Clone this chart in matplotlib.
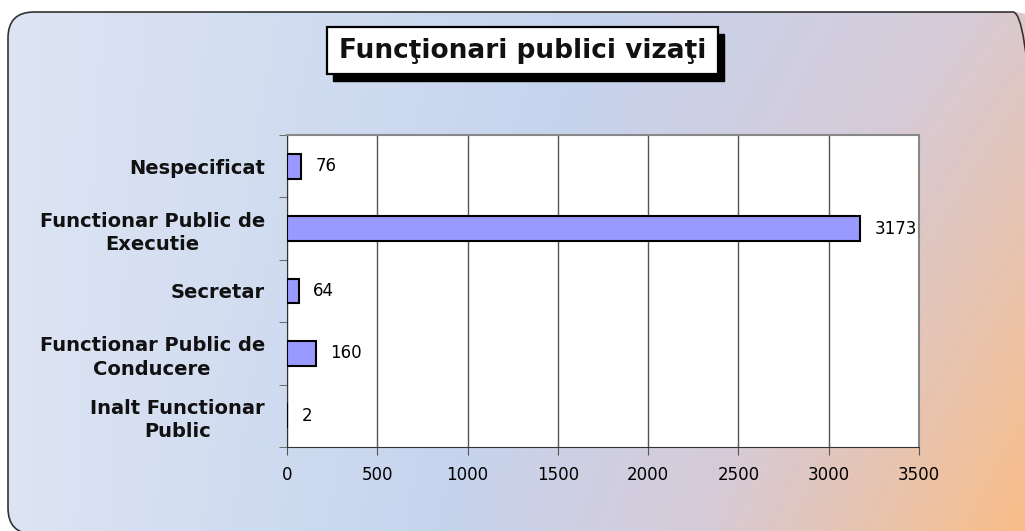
import numpy as np
import matplotlib
matplotlib.use("Agg")
import matplotlib.pyplot as plt
from matplotlib.patches import FancyBboxPatch, Rectangle
from matplotlib.colors import LinearSegmentedColormap

categories = ["Inalt Functionar\nPublic", "Functionar Public de\nConducere", "Secretar",
              "Functionar Public de\nExecutie", "Nespecificat"]
values = [2, 160, 64, 3173, 76]
xticks = [0, 500, 1000, 1500, 2000, 2500, 3000, 3500]
title = "Funcţionari publici vizaţi"

W, H = 1025, 531
fig = plt.figure(figsize=(W / 100, H / 100), dpi=100)
fig.patch.set_facecolor("white")

# background gradient panel (pixel coords, y measured upward)
bg = fig.add_axes([0, 0, 1, 1])
bg.set_xlim(0, W)
bg.set_ylim(0, H)
bg.axis("off")
yy, xx = np.mgrid[0:H, 0:W]  # yy = 0 at top row
t = (xx / W) * (0.72 + 0.28 * yy / H)
cmap = LinearSegmentedColormap.from_list(
    "g", [(0, "#dde5f3"), (0.42, "#c6d4ee"), (0.68, "#d6cbd8"), (1.0, "#f9bd88")])
im = bg.imshow(t, cmap=cmap, extent=(0, W, 0, H), origin="upper", aspect="auto",
               vmin=0, vmax=1)


def fy(y):
    return H - y


panel = FancyBboxPatch((8, fy(534)), W + 14 - 8, 534 - 12,
                       boxstyle="round,pad=0,rounding_size=26",
                       facecolor="none", edgecolor="#333333", linewidth=1.2)
bg.add_patch(panel)
im.set_clip_path(panel)

# title box with shadow
bg.add_patch(Rectangle((333, fy(81)), 391, 47, facecolor="black", edgecolor="black"))
bg.add_patch(Rectangle((327, fy(74)), 391, 47, facecolor="white", edgecolor="black",
                       linewidth=1.6))
bg.text(523, fy(51), title, ha="center", va="center", fontsize=19, fontweight="bold",
        color="#111111")

# chart axes
x0, x1 = 287, 919
y0, y1 = 135, 447
ax = fig.add_axes([x0 / W, 1 - y1 / H, (x1 - x0) / W, (y1 - y0) / H])
ax.set_facecolor("white")
pos = np.arange(len(categories))
ax.barh(pos, values, height=0.4, color="#9999ff", edgecolor="black", linewidth=1.5, zorder=3)
ax.set_xlim(0, 3500)
ax.set_ylim(-0.5, len(categories) - 0.5)
ax.set_xticks(xticks)
ax.set_xticklabels([str(v) for v in xticks], fontsize=12)
ax.set_yticks(pos)
ax.set_yticklabels(categories, fontsize=14, fontweight="bold", ha="right",
                   multialignment="center", color="#111111", linespacing=1.3)
ax.tick_params(axis="y", length=0, pad=16)
ax.set_yticks(np.arange(-0.5, len(categories), 1), minor=True)
ax.tick_params(axis="y", which="minor", length=6, color="#555555", direction="out")
ax.tick_params(axis="x", length=6, color="#555555", direction="out", pad=8)
ax.grid(axis="x", color="#555555", linewidth=1.0, zorder=1)
for s in ["top", "right"]:
    ax.spines[s].set_color("#888888")
    ax.spines[s].set_linewidth(1.5)
for s in ["left", "bottom"]:
    ax.spines[s].set_color("#333333")
for p, v in zip(pos, values):
    ax.text(v + 80, p, str(v), va="center", ha="left", fontsize=12, zorder=4)

fig.savefig("out.png", dpi=100, facecolor="white")
